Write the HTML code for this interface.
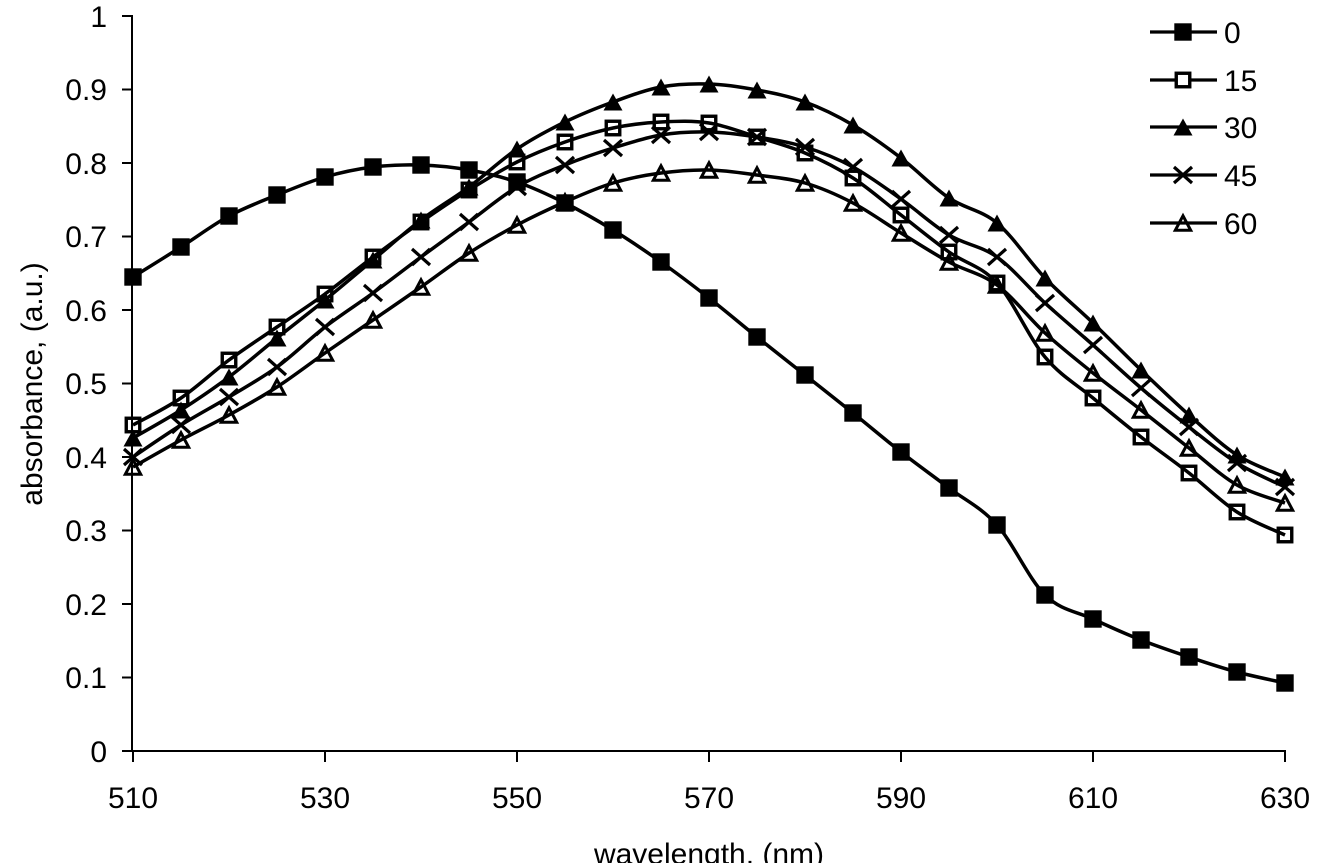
<!DOCTYPE html>
<html><head><meta charset="utf-8"><style>
html,body{margin:0;padding:0;background:#fff;}
svg{display:block;}
text{font-family:"Liberation Sans",Arial,sans-serif;font-size:30px;fill:#000;}
</style></head><body>
<svg id="ch" width="1330" height="863" viewBox="0 0 1330 863" xmlns="http://www.w3.org/2000/svg">
<defs>
<marker id="mSq" markerWidth="24" markerHeight="24" refX="12" refY="12" markerUnits="userSpaceOnUse" overflow="visible"><rect x="3.3" y="3.3" width="17.4" height="17.4" fill="#000"/></marker>
<marker id="mOSq" markerWidth="24" markerHeight="24" refX="12" refY="12" markerUnits="userSpaceOnUse" overflow="visible"><rect x="5.25" y="5.25" width="13.5" height="13.5" fill="none" stroke="#000" stroke-width="3.4"/></marker>
<marker id="mTri" markerWidth="24" markerHeight="24" refX="12" refY="12" markerUnits="userSpaceOnUse" overflow="visible"><polygon points="12,3.5 2.5,20.5 21.5,20.5" fill="#000"/></marker>
<marker id="mX" markerWidth="24" markerHeight="24" refX="12" refY="12" markerUnits="userSpaceOnUse" overflow="visible"><path d="M3,4 L21,20 M3,20 L21,4" stroke="#000" stroke-width="3.2" fill="none"/></marker>
<marker id="mOTri" markerWidth="24" markerHeight="24" refX="12" refY="12" markerUnits="userSpaceOnUse" overflow="visible"><polygon points="12,4.8 4.3,19.3 19.7,19.3" fill="none" stroke="#000" stroke-width="3" stroke-linejoin="miter"/></marker>
</defs>

<!-- axes -->
<g stroke="#000" stroke-width="2" fill="none">
<line x1="132" y1="15" x2="132" y2="752"/>
<line x1="131" y1="751" x2="1286" y2="751"/>
<line x1="122" y1="16" x2="132" y2="16"/>
<line x1="122" y1="89.5" x2="132" y2="89.5"/>
<line x1="122" y1="163" x2="132" y2="163"/>
<line x1="122" y1="236.5" x2="132" y2="236.5"/>
<line x1="122" y1="310" x2="132" y2="310"/>
<line x1="122" y1="383.5" x2="132" y2="383.5"/>
<line x1="122" y1="457" x2="132" y2="457"/>
<line x1="122" y1="530.5" x2="132" y2="530.5"/>
<line x1="122" y1="604" x2="132" y2="604"/>
<line x1="122" y1="677.5" x2="132" y2="677.5"/>
<line x1="122" y1="751" x2="132" y2="751"/>
<line x1="133" y1="751" x2="133" y2="762"/>
<line x1="325" y1="751" x2="325" y2="762"/>
<line x1="517" y1="751" x2="517" y2="762"/>
<line x1="709" y1="751" x2="709" y2="762"/>
<line x1="901" y1="751" x2="901" y2="762"/>
<line x1="1093" y1="751" x2="1093" y2="762"/>
<line x1="1285" y1="751" x2="1285" y2="762"/>
</g>

<!-- y tick labels -->
<g text-anchor="end">
<text x="107" y="27">1</text>
<text x="107" y="100">0.9</text>
<text x="107" y="174">0.8</text>
<text x="107" y="247">0.7</text>
<text x="107" y="321">0.6</text>
<text x="107" y="394">0.5</text>
<text x="107" y="468">0.4</text>
<text x="107" y="541">0.3</text>
<text x="107" y="615">0.2</text>
<text x="107" y="688">0.1</text>
<text x="107" y="762">0</text>
</g>
<!-- x tick labels -->
<g text-anchor="middle">
<text x="133" y="808">510</text>
<text x="325" y="808">530</text>
<text x="517" y="808">550</text>
<text x="709" y="808">570</text>
<text x="901" y="808">590</text>
<text x="1093" y="808">610</text>
<text x="1285" y="808">630</text>
</g>
<text x="709" y="864" text-anchor="middle">wavelength, (nm)</text>
<text transform="translate(42,384) rotate(-90)" text-anchor="middle">absorbance, (a.u.)</text>

<!-- series -->
<g fill="none" stroke="#000" stroke-width="3.5" stroke-linejoin="round">
<polyline class="s" marker-start="url(#mSq)" marker-mid="url(#mSq)" marker-end="url(#mSq)" points="133,277 181,247 229,216 277,195 325,177 373,167 421,165 469,170 517,182 565,203 613,230 661,262 709,298 757,337 805,375 853,413 901,452 949,488 997,525 1045,595 1093,619 1141,640 1189,657 1237,672 1285,683"/>
<polyline class="s" marker-start="url(#mOSq)" marker-mid="url(#mOSq)" marker-end="url(#mOSq)" points="133,425 181,398 229,360 277,327 325,294 373,257 421,222 469,190 517,162 565,142 613,128 661,122 709,123 757,137 805,153 853,178 901,215 949,252 997,283 1045,357 1093,398 1141,437 1189,473 1237,512 1285,535"/>
<polyline class="s" marker-start="url(#mTri)" marker-mid="url(#mTri)" marker-end="url(#mTri)" points="133,438 181,410 229,377 277,338 325,300 373,260 421,220 469,187 517,149 565,122 613,102 661,87 709,84 757,90 805,102 853,125 901,158 949,198 997,223 1045,278 1093,323 1141,370 1189,415 1237,455 1285,477"/>
<polyline class="s" marker-start="url(#mX)" marker-mid="url(#mX)" marker-end="url(#mX)" points="133,457 181,425 229,397 277,367 325,327 373,293 421,257 469,222 517,187 565,165 613,148 661,135 709,132 757,137 805,147 853,167 901,199 949,235 997,257 1045,303 1093,345 1141,388 1189,427 1237,463 1285,487"/>
<polyline class="s" marker-start="url(#mOTri)" marker-mid="url(#mOTri)" marker-end="url(#mOTri)" points="133,467 181,440 229,415 277,387 325,353 373,320 421,287 469,253 517,225 565,202 613,183 661,173 709,170 757,175 805,183 853,203 901,233 949,262 997,285 1045,333 1093,373 1141,410 1189,448 1237,485 1285,503"/>
</g>

<!-- legend -->
<g fill="none" stroke="#000" stroke-width="3.2">
<polyline points="1150,32 1183,32 1217,32" marker-mid="url(#mSq)"/>
<polyline points="1150,80 1175,80 M1191,80 1217,80" marker-mid="url(#mOSq)" stroke="none"/>
<line x1="1150" y1="80" x2="1176" y2="80"/>
<line x1="1190" y1="80" x2="1217" y2="80"/>
<rect x="1176.25" y="73.25" width="13.5" height="13.5" stroke-width="3.4"/>
<polyline points="1150,127 1183,127 1217,127" marker-mid="url(#mTri)"/>
<polyline points="1150,175 1183,175 1217,175" marker-mid="url(#mX)"/>
<polyline points="1150,223 1183,223 1217,223" marker-mid="url(#mOTri)"/>
</g>
<g>
<text x="1224" y="43">0</text>
<text x="1224" y="91">15</text>
<text x="1224" y="138">30</text>
<text x="1224" y="186">45</text>
<text x="1224" y="234">60</text>
</g>
</svg>
<script>
(function(){
  var NS="http://www.w3.org/2000/svg";
  var pls=document.querySelectorAll("polyline.s");
  for(var k=0;k<pls.length;k++){
    var pl=pls[k];
    var pts=pl.getAttribute("points").trim().split(/\s+/).map(function(s){var a=s.split(",");return [parseFloat(a[0]),parseFloat(a[1])];});
    var d="M"+pts[0][0]+","+pts[0][1];
    for(var i=0;i<pts.length-1;i++){
      var p0=pts[i>0?i-1:i],p1=pts[i],p2=pts[i+1],p3=pts[i+2<pts.length?i+2:i+1];
      var c1x=p1[0]+(p2[0]-p0[0])/6,c1y=p1[1]+(p2[1]-p0[1])/6;
      var c2x=p2[0]-(p3[0]-p1[0])/6,c2y=p2[1]-(p3[1]-p1[1])/6;
      d+=" C"+c1x.toFixed(2)+","+c1y.toFixed(2)+" "+c2x.toFixed(2)+","+c2y.toFixed(2)+" "+p2[0]+","+p2[1];
    }
    var p=document.createElementNS(NS,"path");
    p.setAttribute("d",d);
    ["marker-start","marker-mid","marker-end"].forEach(function(a){p.setAttribute(a,pl.getAttribute(a));});
    pl.parentNode.replaceChild(p,pl);
  }
})();
</script>
</body></html>
